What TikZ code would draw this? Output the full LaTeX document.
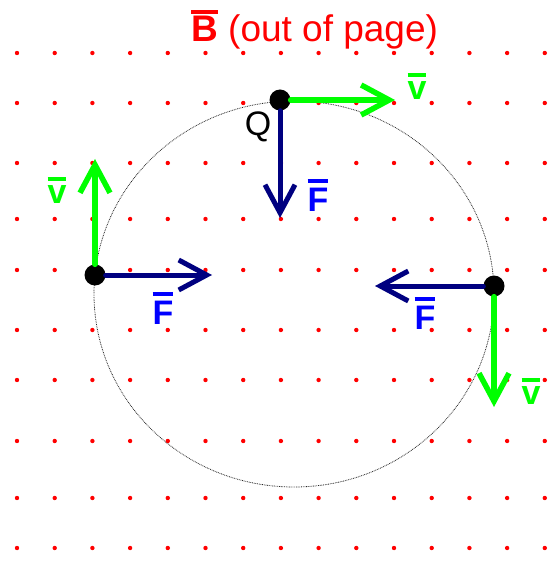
\documentclass[tikz,border=0pt]{standalone}
\usepackage{fontspec}
\setmainfont{Liberation Sans}
\usepackage{xcolor}
\usetikzlibrary{arrows.meta,positioning}
\definecolor{FNavy}{HTML}{000080}
\definecolor{FBlue}{HTML}{0000FF}
\definecolor{VGreen}{HTML}{00FF00}
\definecolor{BRed}{HTML}{FF0000}
\newcommand{\barred}[2][4.5pt]{\vbox{\hrule height 4.5pt\kern #1\hbox{#2}}}

\begin{document}
\begin{tikzpicture}[x=1pt,y=-1pt,
  every node/.style={inner sep=0pt,font=\fontsize{34}{34}\selectfont},
  charge/.style={circle,fill=black,minimum size=21pt},
  vel/.style={-{Straight Barb[length=28pt,width=30pt]},line width=5.5pt,
    color=VGreen,line cap=round,line join=round},
  force/.style={-{Straight Barb[length=28pt,width=30pt]},line width=5pt,
    color=FNavy,line cap=round,line join=round},
  vlabel/.style={text=VGreen,font=\fontsize{34}{34}\selectfont\bfseries},
  flabel/.style={text=FBlue,font=\fontsize{34}{34}\selectfont\bfseries},
  orbit/.style={dash pattern=on 0.8pt off 0.9pt,line width=0.8pt,color=black!85}
]
  \useasboundingbox (0,0) rectangle (547,561);
  \foreach \yy in {53,103,163,219,270,330,380,441,498,548}
    \foreach \i in {0,...,14}
      \fill[BRed] (17+37.7*\i,\yy) circle (2.2pt);

  \node[anchor=base west,text=BRed,font=\fontsize{37}{37}\selectfont] (title) at (191,42)
    {\barred[2.5pt]{\textbf{B}} (out of page)};

  \draw[orbit] (294,294) ellipse (200pt and 193pt);

  \node[charge] (qtop) at (280,100) {};
  \node[charge] (qleft) at (95,275) {};
  \node[charge] (qright) at (494,286) {};

  \coordinate (vtoptip) at (395,100);
  \coordinate (ftoptip) at (280,218);
  \coordinate (vlefttip) at (95,159);
  \coordinate (flefttip) at (212,275);
  \coordinate (frighttip) at (375,286);
  \coordinate (vrighttip) at (494,407);

  \draw[vel] (qtop) -- (vtoptip);
  \draw[force] (qtop) -- (ftoptip);
  \draw[vel] (qleft) -- (vlefttip);
  \draw[force] (qleft) -- (flefttip);
  \draw[force] (qright) -- (frighttip);
  \draw[vel] (qright) -- (vrighttip);

  \node (qlabel) at (258,127) {Q};
  \node[vlabel] (vtop) at (417,86) {\barred{v}};
  \node[flabel] (ftop) at (318,195) {\barred{F}};
  \node[vlabel] (vleft) at (57,190) {\barred{v}};
  \node[flabel] (fleft) at (163,308) {\barred{F}};
  \node[flabel] (fright) at (425,313) {\barred{F}};
  \node[vlabel] (vright) at (531,391) {\barred{v}};
\end{tikzpicture}
\end{document}
